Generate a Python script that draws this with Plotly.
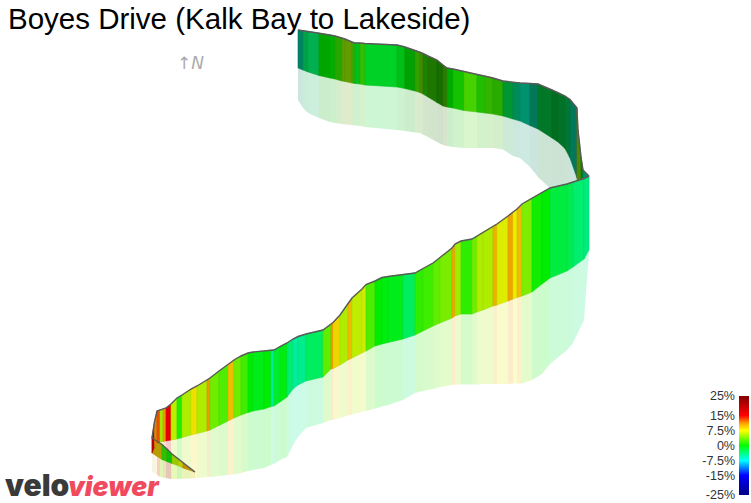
import numpy as np
import plotly.graph_objects as go

# --- colour legend ---
legend_ticks = [25, 15, 7.5, 0, -7.5, -15, -25]
legend_labels = ["25%", "15%", "7.5%", "0%", "-7.5%", "-15%", "-25%"]
grade_stops = [-25, -15, -7.5, 0, 7.5, 11, 15, 25]
grade_rgb = [(0, 0, 128), (0, 0, 255), (0, 255, 255), (0, 255, 0),
             (255, 255, 0), (255, 165, 0), (255, 0, 0), (128, 0, 0)]

# --- far (upper) stretch of the road ---
far_x = [298, 303, 308, 319, 330, 335, 342, 345, 352, 355, 360, 365, 397, 405, 415, 420, 423, 428,
         437, 443, 447, 453, 464, 477, 485, 493, 503, 513, 520, 530, 538, 552, 558, 565, 570, 577]
far_top = [30, 30.7, 31.3, 33, 35, 36, 38, 39, 42, 43, 43, 43.5, 45, 47, 50.5, 52, 53.5, 56,
           60, 65, 68, 69, 71.5, 74.5, 76, 78, 81, 82.3, 83, 83.5, 84, 90, 92.5, 96, 99.5, 108]
far_base = [68, 70, 72, 75.5, 78, 79, 81, 81.5, 83, 83.5, 84, 85, 87, 88.5, 91, 92.5, 94, 97,
            102.5, 106, 107, 108, 110.5, 112, 113, 114, 116, 119, 121, 125.5, 129, 138, 142, 148.5, 158, 178]
far_refl = [100, 108, 113, 118, 122, 123, 124, 124.5, 125, 125.5, 126, 127, 130, 131, 132.5, 133, 134.5, 137,
            142, 145, 146, 147, 148, 148, 148, 148, 149.5, 156, 158, 167, 177, 190, 190, 190, 190, 190]
far_grade = [-5.8, -3.3, -3.4, 0, 0, 1.8, 4.2, 4.8, 2.2, -1.2, 2, -1.4, -0.8, 0, 2.3, 3.75, 1.7, 1.9,
             1.4, 3.1, 0, 0.8, 2.5, 1.2, 2.1, 1.8, -2.5, -4.8, -5.7, -5.6, -2.5, -2, -2.6, -3.1, -5.6]
far_shade = [.51, .63, .69, .65, .69, .65, .63, .61, .67, .75, .75, .82, .75, .63, .63, .55, .51, .47,
             .43, .47, .67, .76, .82, .75, .71, .67, .59, .55, .57, .47, .47, .43, .45, .47, .47]

# --- the hairpin corner joining the two stretches ---
bend_x = [577, 578, 581, 583, 589]
bend_top = [110, 130, 157, 170, 176]
bend_base = [180, 180, 179, 178, 177]
bend_grade = [11, 4, -1, -6]
bend_shade = [.65, .55, .5, .55]

# --- near (lower) stretch of the road ---
near_x = [157, 160, 163, 166, 171, 177, 182, 191, 197, 207, 210, 219, 228, 234, 241, 248, 253, 264, 271, 274,
          280, 287, 293, 298, 306, 323, 331, 333, 340, 348, 352, 362, 366, 375, 382, 388, 403, 415, 423, 433,
          440, 452, 455, 461, 472, 477, 483, 493, 497, 508, 513, 517, 522, 532, 542, 550, 567, 573, 584, 589]
near_top = [411, 410, 409.5, 408, 404, 398, 395, 389, 386, 380, 378, 371, 364.5, 360, 356, 353, 352, 351, 350, 350,
            346.5, 343, 339, 336.5, 334, 330, 324, 322.5, 315, 303, 298, 289, 284.5, 281, 277.5, 276.5, 274.5, 273, 268.5, 263,
            257.5, 248, 244, 241, 239, 236, 232, 226, 224, 216, 212, 209, 204, 198, 192.5, 188, 184, 182, 178.5, 176]
near_base = [443, 442, 441.5, 441, 440, 439, 437.5, 435, 433.5, 431, 430, 425.5, 421, 418, 415, 412.5, 411, 409, 406.5, 406,
             402, 397, 389, 385, 381, 377, 369, 368.5, 365, 360, 358, 353, 351, 346, 344, 342.5, 339, 335, 331, 326,
             323, 318, 316, 314, 314, 312, 310, 306, 305, 301, 299, 297.5, 296, 292, 284, 278, 271, 267, 259, 250]
near_refl = [475, 477, 477.5, 478, 479, 479, 478.5, 478.5, 478, 477, 477, 476, 475, 474.5, 473, 471, 470, 468, 465, 464,
             460, 457, 445, 437, 428, 423, 420, 420, 418, 415.5, 414.5, 412, 411, 408.5, 406.5, 405, 400, 393, 391, 389,
             387, 385, 384.5, 384.5, 384.5, 384.5, 384, 384, 384, 384, 383.5, 383.5, 383.5, 380, 374, 364, 350, 343, 320, 252]
near_grade = [13, 5, 11, 15.5, 6, 1, 5.5, 8, 5.5, 11, 3.5, 2.5, 9.5, 3.5, 2, 0, -0.8, 0, -5,
              -1.5, -0.5, -3.5, -5, -4.5, -3, 3, 11, 8.5, 5.5, 9.5, 6, 6.5, 2.5, 0, -0.5, -0.8, -3, 1.5, 2,
              3, 3.8, 10.5, 5, 1.5, 3.5, 5.5, 5.5, 10, 7, 10.5, 7.5, 9.5, 4, 0.5, 0, -2, -2.5, -3.5, -4]
near_shade = [.93] * len(near_grade)

# --- the start of the road, lower left ---
start_x = [152, 162, 167, 172, 178, 183, 195]
start_top = [438, 444.5, 449, 454, 458.5, 463, 472]
start_base = [453, 459.5, 461.5, 463.5, 465.5, 468, 472]
start_refl = [472, 477, 478.5, 479, 479, 479, 478]
start_grade = [9, 2, 0.5, 5.5, 7, 10]
start_shade = [.72, .75, .75, .8, .8, .75]

# --- narrow corner between the start and the near stretch ---
turn_x = [152, 154.5, 157]
turn_top = [438, 422, 411]
turn_base = [453, 447, 443]
turn_grade = [17, 11]
turn_shade = [.8, .85]


def grade_colour(g, shade=1.0, alpha=1.0):
    chans = [np.interp(g, grade_stops, [c[i] for c in grade_rgb]) * shade for i in range(3)]
    return f"rgba({chans[0]:.0f},{chans[1]:.0f},{chans[2]:.0f},{alpha})"


fig = go.Figure()


def add_strips(xs, upper, lower, grades, shades, alpha=1.0):
    for i, (g, s) in enumerate(zip(grades, shades)):
        col = grade_colour(g, s, alpha)
        edge = grade_colour(g, s * 0.93, alpha)
        fig.add_trace(go.Scatter(
            x=[xs[i], xs[i + 1], xs[i + 1], xs[i], xs[i]],
            y=[upper[i], upper[i + 1], lower[i + 1], lower[i], upper[i]],
            mode="lines", fill="toself", fillcolor=col,
            line=dict(width=0.6 if alpha == 1.0 else 0, color=edge),
            hoverinfo="skip", showlegend=False))


def add_edge(xs, ys):
    fig.add_trace(go.Scatter(x=xs, y=ys, mode="lines",
                             line=dict(color="#5a5a5a", width=1.4),
                             hoverinfo="skip", showlegend=False))


REFL = 0.2
REFL_START = 0.1
add_strips(far_x, far_base, far_refl, far_grade, far_shade, REFL)
add_strips(far_x, far_top, far_base, far_grade, far_shade)
add_strips(bend_x, bend_top, bend_base, bend_grade, bend_shade)
add_edge(far_x + bend_x, far_top + bend_top)

add_strips(start_x, start_base, start_refl, start_grade, start_shade, REFL_START)
add_strips(near_x, near_base, near_refl, near_grade, near_shade, REFL)
add_strips(start_x, start_top, start_base, start_grade, start_shade)
add_strips(turn_x, turn_top, turn_base, turn_grade, turn_shade)
add_strips(near_x, near_top, near_base, near_grade, near_shade)
add_edge(start_x[::-1] + turn_x + near_x, start_top[::-1] + turn_top + near_top)

# colour legend
legend_y = np.linspace(-25, 25, 101)
scale = [[(v + 25) / 50, f"rgb{c}"] for v, c in zip(grade_stops, grade_rgb)]
fig.add_trace(go.Heatmap(x=[0], y=legend_y, z=[[v] for v in legend_y], zmin=-25, zmax=25,
                         colorscale=scale, showscale=False, hoverinfo="skip",
                         xaxis="x2", yaxis="y2"))

fig.update_layout(
    width=751, height=503, margin=dict(l=0, r=0, t=0, b=0, autoexpand=False),
    paper_bgcolor="white", plot_bgcolor="white", showlegend=False,
    xaxis=dict(range=[0, 751], visible=False, domain=[0, 1]),
    yaxis=dict(range=[503, 0], visible=False, domain=[0, 1]),
    xaxis2=dict(domain=[739 / 751, 749 / 751], anchor="y2", visible=False),
    yaxis2=dict(domain=[1 - 495 / 503, 1 - 396 / 503], anchor="x2", range=[-25, 25],
                tickmode="array", tickvals=legend_ticks, ticktext=legend_labels,
                showgrid=False, zeroline=False, ticks="", showline=False, ticklabelstandoff=3,
                tickfont=dict(family="Liberation Sans", size=12.5, color="#333")),
    annotations=[
        dict(text="Boyes Drive (Kalk Bay to Lakeside)", x=6, y=18, xref="x", yref="y", xanchor="left",
             yanchor="middle", showarrow=False,
             font=dict(family="Liberation Sans", size=29.5, color="black")),
        dict(text="↑N", x=190, y=63, xref="x", yref="y", xanchor="center", yanchor="middle",
             showarrow=False, font=dict(family="DejaVu Sans", size=17, color="#ababab", style="italic")),
        dict(text="velo", x=3, y=485, xref="x", yref="y", xanchor="left", yanchor="middle",
             showarrow=False, font=dict(family="Inter", size=30, weight=900, color="#3a3a3a")),
        dict(text="viewer", x=66, y=486, xref="x", yref="y", xanchor="left", yanchor="middle",
             showarrow=False, font=dict(family="Inter", size=26.5, weight=900, style="italic", color="#f04a5f")),
    ],
)

fig.write_html("out.html", config=dict(displayModeBar=False),
               post_script="document.body.style.margin='0';document.body.style.overflow='hidden';")
